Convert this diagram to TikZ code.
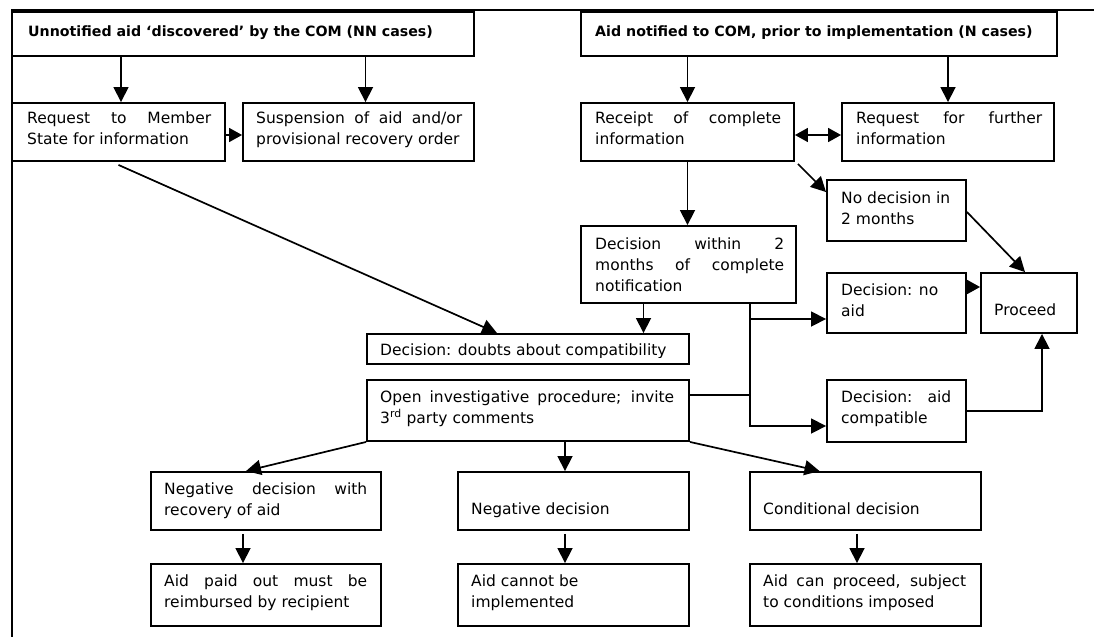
\documentclass[tikz,border=0pt]{standalone}
\usepackage{fontspec}
\setmainfont{DejaVu Sans}
\usetikzlibrary{arrows.meta,calc,fit}
\begin{document}
\begin{tikzpicture}[x=1pt,y=-1pt,
  box/.style={draw, line width=1.9pt, inner sep=0pt},
  txt/.style={inner sep=0pt, anchor=north west, align=justify,
    font=\fontsize{15.5}{21}\selectfont,
    execute at begin node={\tolerance=10000\relax\hyphenpenalty=10000\relax}},
  rag/.style={inner sep=0pt, anchor=north west, align=left,
    font=\fontsize{15.5}{21}\selectfont},
  one/.style={inner sep=0pt, anchor=base west, font=\fontsize{15.5}{21}\selectfont},
  ttl/.style={inner sep=0pt, anchor=base west, font=\fontsize{14.2}{21}\selectfont\bfseries},
  conn/.style={line width=1.7pt},
  arr/.style={conn, -{Triangle[length=15pt,width=15pt]}},
  sarr/.style={conn, -{Triangle[length=13pt,width=14pt]}},
  darr/.style={conn, {Triangle[length=13pt,width=14pt]}-{Triangle[length=13pt,width=14pt]}},
]
\useasboundingbox (0,0) rectangle (1094,637);
% frame
\coordinate (F0) at (12,10);
\coordinate (F1) at (1094,10);
\coordinate (F2) at (12,637);
\draw[conn] (F1) -- (F0) -- (F2);

% boxes
\node[box, fit={(12,12) (474,56)}] (B1) {};
\node[box, fit={(581,12) (1057,56)}] (B4) {};
\node[box, fit={(12,103) (225,161)}] (B2) {};
\node[box, fit={(243,103) (474,161)}] (B3) {};
\node[box, fit={(581,103) (794,161)}] (B5) {};
\node[box, fit={(842,103) (1054,161)}] (B6) {};
\node[box, fit={(827,180) (966,241)}] (B7) {};
\node[box, fit={(581,226) (796,303)}] (B8) {};
\node[box, fit={(827,273) (966,333)}] (B9) {};
\node[box, fit={(981,273) (1077,333)}] (B10) {};
\node[box, fit={(367,334) (689,364)}] (B11) {};
\node[box, fit={(367,380) (689,441)}] (B12) {};
\node[box, fit={(827,380) (966,442)}] (B13) {};
\node[box, fit={(151,472) (381,530)}] (B14) {};
\node[box, fit={(458,472) (689,530)}] (B15) {};
\node[box, fit={(750,472) (981,530)}] (B16) {};
\node[box, fit={(151,564) (381,626)}] (B17) {};
\node[box, fit={(458,564) (689,626)}] (B18) {};
\node[box, fit={(750,564) (981,626)}] (B19) {};

% texts
\node[ttl] (T1) at (28,36) {Unnotified aid ‘discovered’ by the COM (NN cases)};
\node[ttl] (T4) at (595,36) {Aid notified to COM, prior to implementation (N cases)};
\node[txt, text width=184pt] (T2) at (27,108.3) {\strut Request to Member\linebreak State for information};
\node[txt, text width=206pt] (T3) at (256,108.3) {\strut Suspension of aid and/or\linebreak provisional recovery order};
\node[txt, text width=186pt] (T5) at (595,108.3) {\strut Receipt of complete\linebreak information};
\node[txt, text width=186pt] (T6) at (856,108.3) {\strut Request for further\linebreak information};
\node[rag] (T7) at (841,188.3) {\strut No decision in\\2 months};
\node[txt, text width=189pt] (T8) at (595,234.3) {\strut Decision within 2\linebreak months of complete\linebreak notification};
\node[rag] (T9) at (841,280.3) {\strut Decision: no\\aid};
\node[one] (T10) at (994,315) {Proceed};
\begin{scope}
\clip (367,334) rectangle (689,357.5);
\node[one] (T11) at (380,355) {Decision: doubts about compatibility};
\end{scope}
\node[txt, text width=294pt] (T12) at (380,387.3) {\strut Open investigative procedure; invite\linebreak 3\textsuperscript{rd} party comments};
\node[txt, text width=110pt] (T13) at (841,387.3) {\strut Decision: aid\linebreak compatible};
\node[txt, text width=203pt] (T14) at (164,479.3) {\strut Negative decision with\linebreak recovery of aid};
\node[one] (T15) at (471,514) {Negative decision};
\node[one] (T16) at (763,514) {Conditional decision};
\node[txt, text width=203pt] (T17) at (164,571.3) {\strut Aid paid out must be\linebreak reimbursed by recipient};
\node[rag] (T18) at (471,571.3) {\strut Aid cannot be\\implemented};
\node[txt, text width=203pt] (T19) at (763,571.3) {\strut Aid can proceed, subject\linebreak to conditions imposed};

% connectors
\coordinate (a1) at ([xshift=2.5pt]B2.north);
\draw[arr] (B1.south -| a1) -- (a1);
\coordinate (a2) at ([xshift=7pt]B3.north);
\draw[arr] (B1.south -| a2) -- (a2);
\draw[arr] (B4.south -| B5.north) -- (B5.north);
\draw[arr] (B4.south -| B6.north) -- (B6.north);
\coordinate (a3) at ([yshift=-3pt]B2.east);
\draw[sarr] (a3) -- (a3 -| B3.west);
\coordinate (a4) at ([yshift=-3pt]B5.east);
\draw[darr] (a4) -- (a4 -| B6.west);
\draw[arr] ([yshift=-3pt]B2.south) -- ([xshift=-31pt]B11.north);
\draw[arr] (B5.south) -- (B5.south |- B8.north);
\draw[arr] ([shift={(3pt,-2pt)}]B5.south east) -- ([yshift=-13pt]B7.north west);
\coordinate (a8) at ([xshift=-45pt]B8.south);
\draw[arr] (a8) -- (a8 |- B11.north);
\coordinate (j1) at ([xshift=61.5pt]B8.south);
\coordinate (b13) at ([yshift=-15pt]B13.west);
\draw[arr] (j1) |- (b13);
\coordinate (b9) at ([yshift=-16pt]B9.west);
\draw[arr] (j1 |- b9) -- (b9);
\coordinate (b12) at ([yshift=15.5pt]B12.east);
\draw[conn] (b12) -- (b12 -| j1);
\coordinate (b9e) at ([yshift=16pt]B9.east);
\draw[sarr] (b9e) -- (b9e -| B10.west);
\draw[arr] ([yshift=-1.5pt]B7.east) -- ([xshift=-4pt]B10.north);
\draw[arr] (B13.east) -| ([xshift=13pt]B10.south);
\draw[arr] (B12.south west) -- ([xshift=-20pt]B14.north);
\coordinate (a15) at ([xshift=-8.5pt]B15.north);
\draw[arr] (a15 |- B12.south) -- (a15);
\draw[arr] (B12.south east) -- ([xshift=-46pt]B16.north);
\coordinate (a17) at ([xshift=-23pt]B17.north);
\draw[arr] ($(a17 |- B14.south)+(0,3)$) -- (a17);
\coordinate (a18) at ([xshift=-8.5pt]B18.north);
\draw[arr] ($(a18 |- B15.south)+(0,3)$) -- (a18);
\coordinate (a19) at ([xshift=-8.5pt]B19.north);
\draw[arr] ($(a19 |- B16.south)+(0,3)$) -- (a19);
\end{tikzpicture}
\end{document}
